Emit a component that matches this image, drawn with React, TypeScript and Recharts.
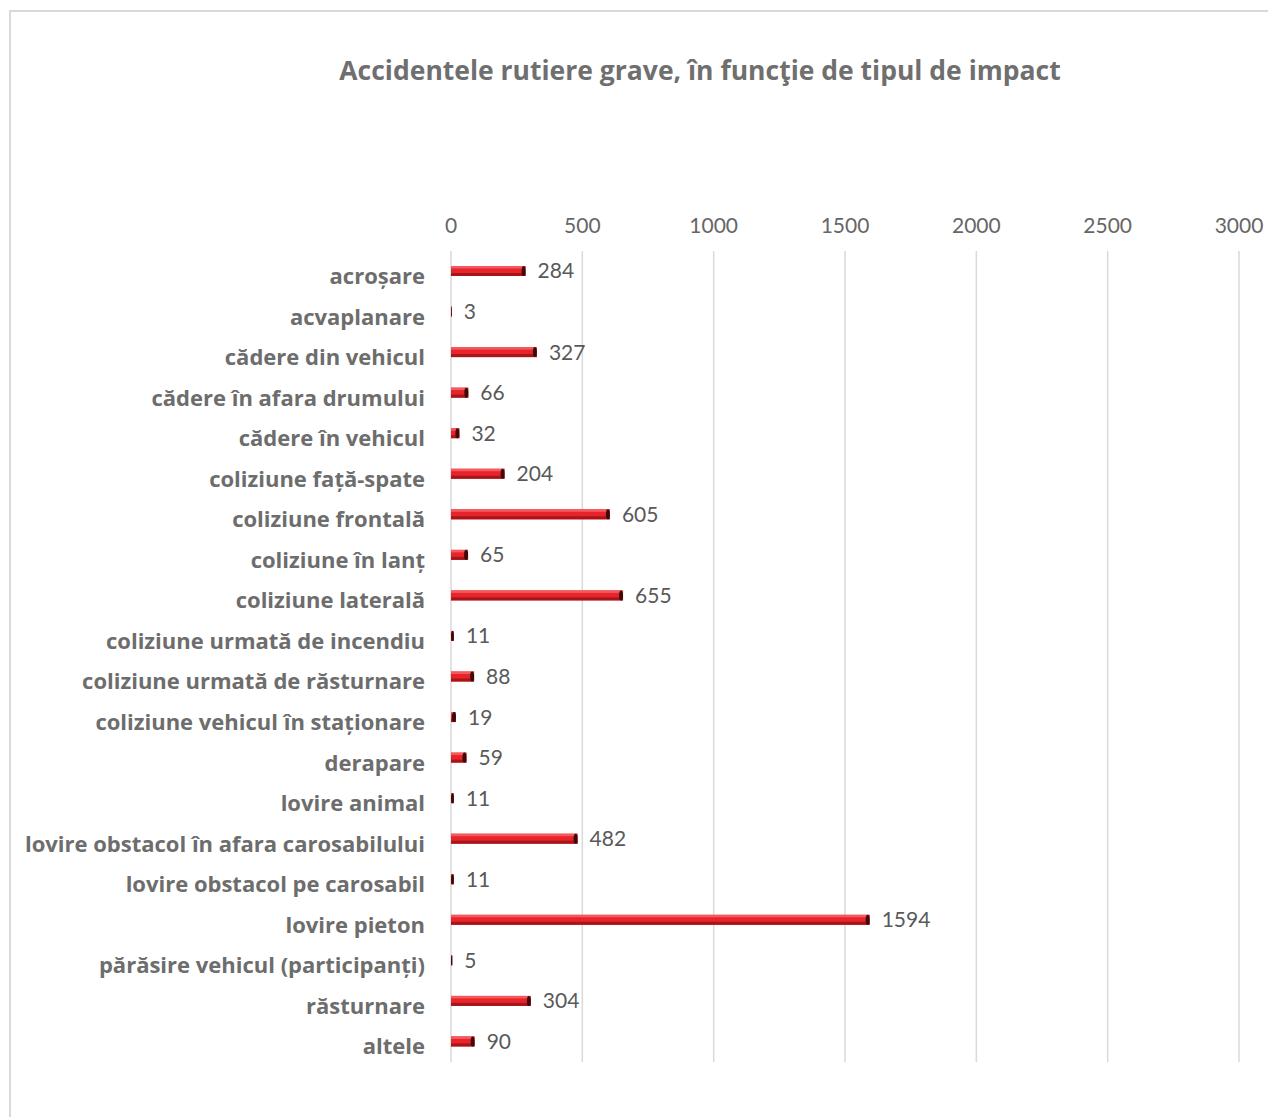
import React from 'react';
import { BarChart, Bar, XAxis, YAxis, CartesianGrid, LabelList } from 'recharts';

const categories = [
  'acroșare',
  'acvaplanare',
  'cădere din vehicul',
  'cădere în afara drumului',
  'cădere în vehicul',
  'coliziune față-spate',
  'coliziune frontală',
  'coliziune în lanț',
  'coliziune laterală',
  'coliziune urmată de incendiu',
  'coliziune urmată de răsturnare',
  'coliziune vehicul în staționare',
  'derapare',
  'lovire animal',
  'lovire obstacol în afara carosabilului',
  'lovire obstacol pe carosabil',
  'lovire pieton',
  'părăsire vehicul (participanți)',
  'răsturnare',
  'altele',
];

const values = [284, 3, 327, 66, 32, 204, 605, 65, 655, 11, 88, 19, 59, 11, 482, 11, 1594, 5, 304, 90];

const xTicks = [0, 500, 1000, 1500, 2000, 2500, 3000];

const data = categories.map((name, i) => ({ name, value: values[i] }));

const NUM_FONT = 'Lato, "Open Sans", sans-serif';
const BOLD_FONT = '"Open Sans", "Noto Sans", sans-serif';

// cylinder-ish bar like the Excel 3D style
const CylinderBar = (props: any) => {
  const { x, y, width, height } = props;
  if (!width || width <= 0) return null;
  const capW = Math.min(4, width);
  return (
    <g>
      <rect x={x} y={y} width={width} height={height} fill="#e8232a" />
      <rect x={x} y={y} width={width} height={height * 0.25} fill="#f25a5e" />
      <rect x={x} y={y + height * 0.7} width={width} height={height * 0.3} fill="#a5161b" />
      <ellipse cx={x + width - capW / 2} cy={y + height / 2} rx={capW / 2} ry={height / 2} fill="#3b0b0c" />
    </g>
  );
};

const CategoryTick = (props: any) => {
  const { x, y, payload } = props;
  return (
    <text
      x={x}
      y={y + 5}
      dy="0.35em"
      textAnchor="end"
      fill="#6d6d6d"
      fontSize={22}
      fontWeight={700}
      fontFamily={BOLD_FONT}
    >
      {payload.value}
    </text>
  );
};

export default function App() {
  return (
    <div style={{ position: 'absolute', left: 0, top: 0, width: 1268, height: 1117, background: '#fff', overflow: 'hidden' }}>
      <div
        style={{
          position: 'absolute',
          left: 9,
          top: 10,
          width: 1300,
          height: 1200,
          borderLeft: '2px solid #d9d9d9',
          borderTop: '2px solid #d9d9d9',
        }}
      />
      <div
        style={{
          position: 'absolute',
          left: 0,
          top: 52,
          width: 1400,
          textAlign: 'center',
          fontFamily: BOLD_FONT,
          fontWeight: 700,
          fontSize: 26.5,
          color: '#6f6f6f',
        }}
      >
        Accidentele rutiere grave, în funcţie de tipul de impact
      </div>
      <div style={{ position: 'absolute', left: 0, top: 0 }}>
        <BarChart
          width={1268}
          height={1117}
          data={data}
          layout="vertical"
          margin={{ top: 221, right: 29, bottom: 55, left: 0 }}
          barCategoryGap={15}
        >
          <CartesianGrid horizontal={false} vertical={true} stroke="#d9d9d9" strokeWidth={1.5} />
          <XAxis
            type="number"
            orientation="top"
            domain={[0, 3000]}
            ticks={xTicks}
            height={30}
            axisLine={false}
            tickLine={false}
            tickMargin={12}
            interval={0}
            tick={{ fill: '#666666', fontSize: 21, fontFamily: NUM_FONT }}
          />
          <YAxis
            type="category"
            dataKey="name"
            width={451}
            axisLine={false}
            tickLine={false}
            tickMargin={20}
            interval={0}
            tick={<CategoryTick />}
          />
          <Bar dataKey="value" barSize={10} shape={CylinderBar} isAnimationActive={false}>
            <LabelList
              dataKey="value"
              position="right"
              offset={12}
              style={{ fill: '#595959', fontSize: 21, fontFamily: NUM_FONT }}
            />
          </Bar>
        </BarChart>
      </div>
    </div>
  );
}
